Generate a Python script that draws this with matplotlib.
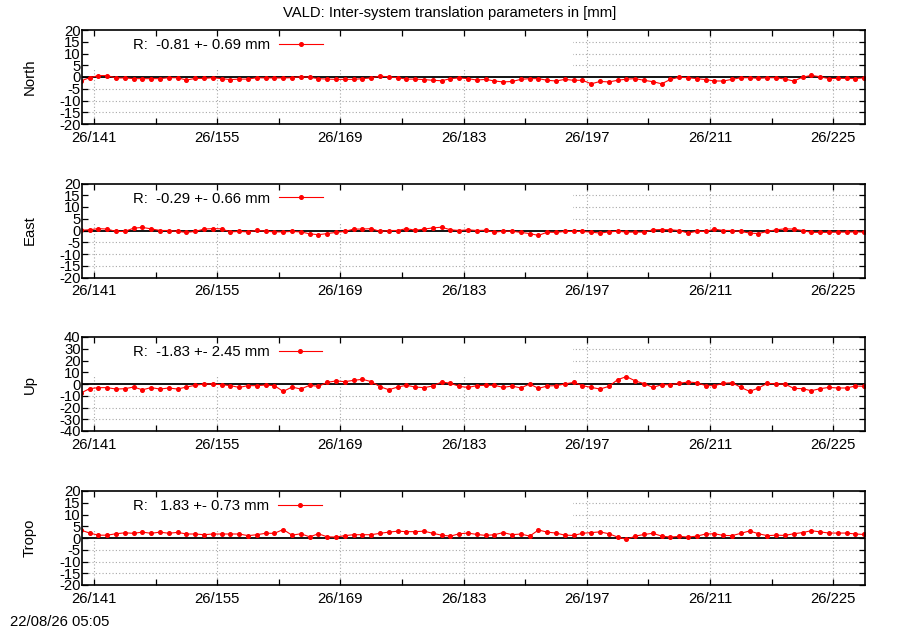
import numpy as np
import matplotlib
matplotlib.use("Agg")
import matplotlib.pyplot as plt
from matplotlib.patches import Rectangle

plt.rcParams['font.family'] = ['Liberation Sans', 'DejaVu Sans']
plt.rcParams['axes.unicode_minus'] = False

# day of year 2026, one solution per day (plotted at noon)
doy = list(range(139, 229))

north = [-1.7, -0.3, 0.6, 0.6, -0.4, -0.4, -0.7, -0.7, -0.7, -0.7,
         -0.3, -0.3, -1.3, -0.6, -0.6, -0.3, -0.7, -1.1, -0.9, -0.9,
         -0.3, -0.4, -0.4, -0.4, -0.3, 0.1, -0.1, -0.7, -0.9, -1.0,
         -1.0, -1.0, -0.7, -0.4, 0.4, 0.0, -0.3, -0.9, -0.9, -1.1,
         -1.4, -1.6, -0.7, -0.4, -0.7, -1.3,
         -1.0, -1.7, -2.1, -1.9, -1.0, -0.7, -0.7, -1.4, -1.7, -1.0,
         -1.4, -1.4, -2.9, -1.9, -2.1, -1.4, -0.9, -0.7, -1.4, -2.0,
         -2.9, -1.0, -0.1, -0.3, -0.7, -1.1, -1.7, -1.7, -1.0, -0.3,
         -0.3, -0.6, -0.3, -0.3, -0.9, -1.7, -0.1, 0.7, 0.1, -0.7,
         -0.6, -0.6, -0.7, -0.3]

east = [0.1, 0.3, 0.8, 0.6, -0.4, -0.4, 1.0, 1.3, 0.7, 0.0,
        0.0, -0.4, -0.8, -0.4, 0.6, 0.8, 0.7, -0.6, -0.4, -0.6,
        0.1, -0.3, -0.6, -0.6, -0.4, -0.6, -1.4, -1.8, -1.3, -0.8,
        -0.4, 0.6, 0.6, 0.8, -0.4, 0.0, 0.0, 0.8, 0.1, 0.6,
        1.1, 1.4, 0.3, 0.0, 0.3, 0.0,
        0.1, -0.7, -0.3, -0.3, -0.8, -1.3, -2.1, -0.7, -0.8, -0.4,
        -0.4, -0.4, -0.7, -1.1, -0.6, -0.3, -0.7, -0.7, -0.7, 0.3,
        0.4, 0.3, 0.0, -1.1, -0.3, -0.4, 0.6, 0.0, 0.0, -0.4,
        -1.1, -1.3, -0.4, 0.3, 0.7, 0.6, 0.0, -0.8, -0.8, -0.8,
        -0.7, -0.7, -0.6, -0.7]

up = [-7.7, -4.0, -3.1, -3.1, -4.3, -4.0, -2.6, -4.9, -3.1, -4.3,
      -3.4, -4.3, -2.6, -1.1, 0.0, 0.0, -0.6, -1.4, -2.9, -1.4,
      -1.4, -0.9, -1.4, -6.3, -2.6, -4.3, -1.1, -2.0, 1.4, 2.6,
      2.0, 3.1, 4.0, 2.0, -2.3, -4.9, -2.6, -1.1, -2.6, -3.1,
      -1.7, 1.7, 0.6, -2.0, -2.9, -1.4,
      -1.1, -1.1, -2.9, -1.7, -3.4, 0.0, -3.7, -1.7, -1.4, 0.0,
      1.4, -1.4, -2.9, -4.3, -2.0, 3.7, 6.3, 2.6, 0.3, -2.9,
      -0.6, -0.6, 0.6, 1.7, 1.1, -1.4, -1.4, 0.6, 1.1, -2.9,
      -6.3, -3.4, 0.6, 0.0, 0.0, -3.7, -4.0, -5.7, -4.0, -2.9,
      -3.4, -3.4, -1.7, -2.0]

tropo = [3.4, 2.1, 1.2, 1.2, 1.8, 2.2, 2.0, 2.5, 2.0, 2.5,
         2.0, 2.4, 1.7, 1.7, 1.4, 1.7, 1.7, 1.7, 1.7, 1.0,
         1.4, 2.0, 2.0, 3.6, 1.2, 1.8, 0.5, 1.8, 0.5, 0.4,
         1.0, 1.4, 1.4, 1.4, 2.0, 2.5, 2.9, 2.7, 2.7, 2.9,
         2.0, 1.2, 0.8, 1.8, 2.1, 1.5,
         1.1, 1.4, 2.3, 1.4, 1.7, 0.8, 3.4, 2.5, 2.1, 1.2,
         1.1, 2.0, 2.3, 2.6, 1.8, 0.4, -0.6, 0.8, 1.5, 2.0,
         0.8, 0.4, 0.7, 0.4, 0.8, 1.7, 1.8, 1.1, 1.0, 2.0,
         3.0, 1.8, 1.0, 1.2, 1.1, 1.8, 2.3, 3.1, 2.6, 2.1,
         2.1, 2.1, 1.7, 1.5]

names = ['North', 'East', 'Up', 'Tropo']
series = [north, east, up, tropo]
stats = ['R:  -0.81 +- 0.69 mm', 'R:  -0.29 +- 0.66 mm',
         'R:  -1.83 +- 2.45 mm', 'R:   1.83 +- 0.73 mm']
ylims = [20, 20, 40, 20]
ysteps = [5, 5, 10, 5]

major_doy = [141, 155, 169, 183, 197, 211, 225]
minor_doy = [148, 162, 176, 190, 204, 218]
xlabels = ['26/%d' % d for d in major_doy]

title = 'VALD: Inter-system translation parameters in [mm]'
stamp = '22/08/26 05:05'

FS = 10.7
W, H = 900, 630
fig = plt.figure(figsize=(W / 100, H / 100), dpi=100)

tops = [30, 183.5, 337, 491]
ph = 94
t = np.array(doy) + 0.5
grid_kw = dict(color='#a8a8a8', ls=(0, (1, 2)), lw=0.8, zorder=0.3)

for k in range(4):
    ax = fig.add_axes([82 / W, 1 - (tops[k] + ph) / H, 783 / W, ph / H])
    lim = ylims[k]
    yt = np.arange(-lim, lim + 1, ysteps[k])

    # dotted grid, hidden behind the key area like gnuplot's opaque key
    for d in major_doy:
        ax.axvline(d, **grid_kw)
    for y in yt[1:-1]:
        if y != 0:
            ax.axhline(y, **grid_kw)
    ax.add_patch(Rectangle((0, 0.59), 0.627, 0.41, transform=ax.transAxes,
                           fc='white', ec='none', zorder=0.6))

    ax.axhline(0, color='black', lw=1.3, zorder=1)
    ax.plot(t, series[k], color='red', lw=0.8, marker='o', ms=2.6,
            label=stats[k], zorder=2)

    ax.set_xlim(139.64, 228.6)
    ax.set_ylim(-lim, lim)
    ax.set_yticks(yt)
    ax.set_xticks(major_doy)
    ax.set_xticklabels(xlabels)
    ax.set_xticks(minor_doy, minor=True)
    ax.tick_params(which='both', direction='in', top=True, right=True,
                   labelsize=FS, width=0.9, length=4.5)
    ax.tick_params(axis='y', pad=1)
    ax.tick_params(axis='x', pad=5)
    for s in ax.spines.values():
        s.set_linewidth(1.2)

    ax.set_ylabel(names[k], fontsize=FS)
    ax.yaxis.set_label_coords(-0.058, 0.5)

    ax.legend(loc='center left', bbox_to_anchor=(0.065, 0.84), frameon=False,
              markerfirst=False, handlelength=2.95, handletextpad=0.6,
              borderpad=0, borderaxespad=0, fontsize=FS, numpoints=1)

fig.text(0.5, 1 - 13 / H, title, ha='center', va='center', fontsize=FS)
fig.text(10 / W, 1 - 622 / H, stamp, ha='left', va='center', fontsize=FS)

fig.savefig('out.png', dpi=100)
